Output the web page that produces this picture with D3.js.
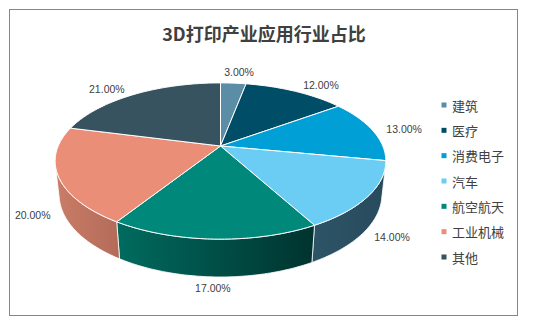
<!DOCTYPE html>
<html>
<head>
<meta charset="utf-8">
<script src="https://cdn.jsdelivr.net/npm/d3@7"></script>
<style>
    body { margin: 0; background: #ffffff; }
    .font { font-family: "Noto Sans CJK SC", "Noto Sans", sans-serif; fill: #404040; }
    .title { font-size: 18px; font-weight: bold; }
    .legend { font-size: 13px; }
    .value-label { font-family: "Liberation Sans", Arial, sans-serif; font-size: 10.5px; fill: #404040; }
</style>
</head>
<body>
<svg id="chart" width="535" height="332"></svg>
<script>
const SVG_WIDTH = 535;
const SVG_HEIGHT = 332;
const PLOT_TITLE_TXT = "3D打印产业应用行业占比";

// data
const CATEGORIES = ["建筑", "医疗", "消费电子", "汽车", "航空航天", "工业机械", "其他"];
const VALUES = [3, 12, 13, 14, 17, 20, 21];
const VALUE_LABELS = ["3.00%", "12.00%", "13.00%", "14.00%", "17.00%", "20.00%", "21.00%"];

// palette: top face, and side gradient (light -> dark)
const TOP_COLORS = ["#5b8ea6", "#004d67", "#00a0d7", "#6bcdf3", "#00897b", "#eb8e78", "#37535f"];
const SIDE_COLORS = [
    ["#4a7386", "#2e4a57"],
    ["#003f56", "#00283a"],
    ["#0083b0", "#005578"],
    ["#2d5467", "#284b5c"],
    ["#006b5f", "#00332f"],
    ["#ca7d68", "#b36b59"],
    ["#2d4651", "#1f313a"]
];

// 3d projection of the pie
const CX = 220.5;
const CY = 146;
const FOCAL = 748;
const DIST = 4.61;
const TILT_SIN = 0.4637;
const TILT_COS = Math.sqrt(1 - TILT_SIN * TILT_SIN);
const DEPTH = 0.234;
const STEP = Math.PI / 180;

function project(angle, r, y) {
    var u = r * Math.sin(angle);
    var v = -r * Math.cos(angle);
    var depth = DIST - y * TILT_SIN - v * TILT_COS;
    return [CX + FOCAL * u / depth, CY - FOCAL * (y * TILT_COS - v * TILT_SIN) / depth];
}

function arcPoints(a0, a1, y) {
    var n = Math.max(2, Math.ceil((a1 - a0) / STEP));
    var pts = [];
    for (var i = 0; i <= n; i++) {
        pts.push(project(a0 + (a1 - a0) * i / n, 1, y));
    }
    return pts;
}

// side wall faces the camera where v > 1 / (dist * cos)
const SIDE_MIN_V = 1 / (DIST * TILT_COS);
const SIDE_START = Math.acos(-SIDE_MIN_V);
const SIDE_END = 2 * Math.PI - SIDE_START;

var svg = d3.select("#chart");

svg.append("rect")
    .attr("x", 9.5)
    .attr("y", 9.5)
    .attr("width", 508)
    .attr("height", 306)
    .attr("fill", "#ffffff")
    .attr("stroke", "#868686")
    .attr("stroke-width", 1);

svg.append("text")
    .attr("x", 264)
    .attr("y", 33)
    .attr("text-anchor", "middle")
    .attr("dominant-baseline", "central")
    .text(PLOT_TITLE_TXT)
    .classed("title font", true);

var pie = d3.pie()
    .sort(null)
    .startAngle(0)
    .endAngle(2 * Math.PI);
var arcs = pie(VALUES);

var defs = svg.append("defs");
var sideGroup = svg.append("g");
var topGroup = svg.append("g");
var labelGroup = svg.append("g");

arcs.forEach(function(d, i) {
    var s0 = Math.max(d.startAngle, SIDE_START);
    var s1 = Math.min(d.endAngle, SIDE_END);
    if (s1 <= s0) {
        return;
    }
    var topPts = arcPoints(s0, s1, 0);
    var bottomPts = arcPoints(s0, s1, -DEPTH).reverse();
    var pts = topPts.concat(bottomPts);
    var xs = pts.map(function(p) { return p[0]; });
    var grad = defs.append("linearGradient")
        .attr("id", "side" + i)
        .attr("gradientUnits", "userSpaceOnUse")
        .attr("x1", d3.min(xs))
        .attr("x2", d3.max(xs))
        .attr("y1", 0)
        .attr("y2", 0);
    grad.append("stop").attr("offset", "0%").attr("stop-color", SIDE_COLORS[i][0]);
    grad.append("stop").attr("offset", "100%").attr("stop-color", SIDE_COLORS[i][1]);
    sideGroup.append("path")
        .attr("d", d3.line()(pts) + "Z")
        .attr("fill", "url(#side" + i + ")")
        .attr("stroke", "#ffffff")
        .attr("stroke-width", 0.8)
        .attr("stroke-linejoin", "round");
});

arcs.forEach(function(d, i) {
    var pts = [[CX, CY]].concat(arcPoints(d.startAngle, d.endAngle, 0));
    topGroup.append("path")
        .attr("d", d3.line()(pts) + "Z")
        .attr("fill", TOP_COLORS[i])
        .attr("stroke", "#ffffff")
        .attr("stroke-width", 1)
        .attr("stroke-linejoin", "round");
});

// value labels, outside end
arcs.forEach(function(d, i) {
    var mid = (d.startAngle + d.endAngle) / 2;
    var front = -Math.cos(mid) > SIDE_MIN_V;
    var anchor = project(mid, 1, front ? -DEPTH : 0);
    var dx = anchor[0] - CX;
    var dy = anchor[1] - CY;
    var len = Math.sqrt(dx * dx + dy * dy);
    dx /= len;
    dy /= len;
    var label = labelGroup.append("text")
        .attr("text-anchor", "middle")
        .attr("dominant-baseline", "central")
        .text(VALUE_LABELS[i])
        .classed("value-label", true);
    var w = label.node().getComputedTextLength();
    label.attr("x", anchor[0] + dx * (w / 2 + 14))
        .attr("y", anchor[1] + dy * (6 + 5));
});

// legend
var legendY = d3.scalePoint()
    .domain(CATEGORIES)
    .range([105, 257]);
var legend = svg.append("g");
CATEGORIES.forEach(function(c, i) {
    legend.append("rect")
        .attr("x", 441.5)
        .attr("y", legendY(c) - 2.5)
        .attr("width", 5)
        .attr("height", 5)
        .attr("fill", TOP_COLORS[i]);
    legend.append("text")
        .attr("x", 452)
        .attr("y", legendY(c))
        .attr("dominant-baseline", "central")
        .text(c)
        .classed("legend font", true);
});
</script>
</body>
</html>
